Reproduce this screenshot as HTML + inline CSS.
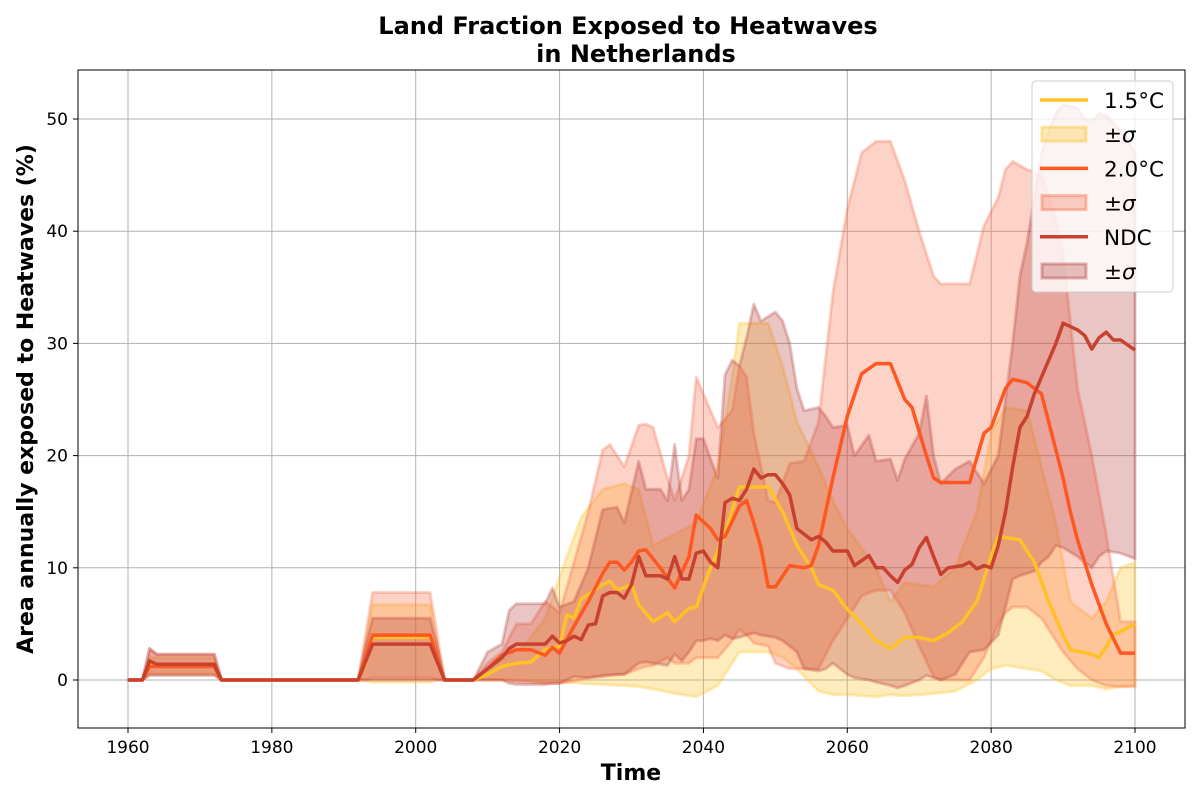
<!DOCTYPE html>
<html><head><meta charset="utf-8"><style>
body{margin:0;background:#fff;}
svg{display:block;font-family:"DejaVu Sans","Liberation Sans",sans-serif;}
</style></head><body>
<svg id="chart" width="1200" height="800" xmlns="http://www.w3.org/2000/svg">
<text x="628" y="34" text-anchor="middle" font-size="24" font-weight="bold">Land Fraction Exposed to Heatwaves</text>
<text x="636" y="62" text-anchor="middle" font-size="24" font-weight="bold">in Netherlands</text>
<text x="631" y="780" text-anchor="middle" font-size="22" font-weight="bold">Time</text>
<text transform="translate(33,399) rotate(-90)" text-anchor="middle" font-size="22" font-weight="bold">Area annually exposed to Heatwaves (%)</text>
<g id="grid"></g><g id="bands"></g><g id="lines"></g><g id="ticks"></g>
<rect x="78" y="70" width="1107" height="658" fill="none" stroke="#000" stroke-width="1"/>
<g id="legend">
<rect x="1032" y="81" width="141" height="211" rx="4" fill="#fff" fill-opacity="0.8" stroke="#ccc"/>
</g>
</svg>
<script>
const xTicks=[1960,1980,2000,2020,2040,2060,2080,2100];
const yTicks=[0,10,20,30,40,50];
const mean15Years=[1960,1962,1963,1972,1973,1992,1993,1994,2002,2003,2004,2008,2010,2012,2014,2016,2018,2020,2021,2022,2023,2026,2027,2028,2030,2031,2033,2035,2036,2038,2039,2041,2043,2045,2049,2051,2053,2055,2056,2058,2060,2062,2064,2066,2068,2070,2072,2074,2076,2078,2080,2081,2084,2086,2088,2090,2091,2094,2095,2097,2100];
const mean15=[0,0,1.3,1.3,0,0,1.5,3.8,3.8,1.8,0,0,0.5,1.2,1.5,1.6,2.7,3,5.8,5.5,7.2,8.5,8.8,8,8.5,6.7,5.2,6,5.2,6.4,6.5,10,13,17.2,17.2,15,12,10,8.5,8,6.3,5,3.5,2.8,3.8,3.8,3.5,4.2,5.2,7,11,12.8,12.5,10.5,7,4,2.7,2.3,2,4,5];
const mean20Years=[1960,1962,1963,1972,1973,1992,1993,1994,2002,2003,2004,2008,2010,2012,2014,2016,2018,2019,2020,2022,2024,2026,2027,2028,2029,2030,2031,2032,2034,2036,2038,2039,2041,2042,2043,2045,2046,2047,2048,2049,2050,2052,2054,2055,2056,2058,2060,2062,2064,2066,2068,2069,2071,2072,2073,2077,2079,2080,2082,2083,2085,2087,2088,2089,2090,2091,2092,2094,2096,2098,2100];
const mean20=[0,0,1.2,1.2,0,0,2,4,4,2,0,0,1,2.2,2.7,2.7,2.2,2.9,2.4,4.8,7,9.5,10.5,10.5,9.8,10.5,11.5,11.6,10,8.2,11,14.7,13.5,12.5,12.8,15.5,16,14,11.8,8.3,8.3,10.2,10,10.2,12,18,23.5,27.3,28.2,28.2,25,24.3,20,18,17.6,17.6,22,22.5,26,26.8,26.5,25.5,23,20.5,18,15,12.5,8.5,5,2.4,2.4];
const meanNdcYears=[1960,1962,1963,1964,1972,1973,1992,1993,1994,2002,2003,2004,2008,2010,2012,2013,2014,2018,2019,2020,2021,2022,2023,2024,2025,2026,2027,2028,2029,2030,2031,2032,2034,2035,2036,2037,2038,2039,2040,2041,2042,2043,2044,2045,2046,2047,2048,2049,2050,2051,2052,2053,2055,2056,2057,2058,2060,2061,2063,2064,2065,2066,2067,2068,2069,2070,2071,2072,2073,2074,2076,2077,2078,2079,2080,2081,2082,2083,2084,2085,2086,2087,2088,2089,2090,2092,2093,2094,2095,2096,2097,2098,2100];
const meanNdc=[0,0,1.7,1.4,1.4,0,0,1.6,3.2,3.2,1.6,0,0,1,2,2.8,3.2,3.2,3.9,3.3,3.5,3.9,3.6,4.9,5,7.5,7.8,7.8,7.3,8.5,11,9.3,9.3,9,11,9,9,11.3,11.5,10.5,10,15.8,16.2,16,17,18.8,18,18.3,18.3,17.5,16.5,13.5,12.5,12.8,12.3,11.5,11.5,10.2,11.1,10,10,9.3,8.7,9.8,10.3,11.8,12.7,11,9.4,10,10.2,10.5,9.9,10.2,10,12,15,19,22.5,23.5,25.5,27,28.5,30,31.8,31.2,30.7,29.5,30.5,31,30.3,30.3,29.4];
const band15Years=[1960,1962,1963,1972,1973,1992,1993,1994,2002,2003,2004,2008,2010,2015,2018,2021,2023,2026,2029,2031,2033,2036,2039,2042,2044,2045,2049,2051,2053,2056,2058,2060,2064,2066,2068,2072,2075,2078,2080,2082,2085,2087,2089,2091,2094,2096,2098,2100];
const band15Lo=[0,0,0.6,0.6,0,0,-0.1,-0.2,-0.2,0,0,0,0,0,-0.2,-0.2,-0.3,-0.4,-0.5,-0.6,-0.8,-1.2,-1.5,-0.5,1.5,2.5,2.5,2,1,-1,-1.3,-1.3,-1.5,-1.3,-1.4,-1.2,-1,0,1,1.3,1,0.8,0,-0.5,-0.5,-0.8,-0.6,-0.5];
const band15Hi=[0,0,2,2,0,0,3,6.7,6.7,3,0,0,1,3,5.5,11,14.5,17,17.5,17,12,13,14,19,27,31.8,31.8,28,23,19,16,13.5,10,7,8.7,8.3,10,15,22,24.3,24,19,14,7,5.5,7,10,10.5];
const band20Years=[1960,1962,1963,1964,1972,1973,1992,1993,1994,2002,2003,2004,2008,2010,2012,2014,2016,2018,2020,2022,2024,2026,2027,2029,2031,2032,2033,2035,2036,2038,2039,2041,2042,2044,2045,2046,2047,2049,2050,2052,2054,2056,2058,2060,2062,2064,2066,2068,2070,2072,2073,2077,2079,2081,2082,2083,2085,2087,2089,2090,2092,2094,2096,2098,2100];
const band20Lo=[0,0,0.5,0.5,0.5,0,0,0,0.2,0.2,0,0,0,0,0,-0.1,-0.2,-0.3,-0.3,-0.1,0.2,0.3,0.4,0.5,1,1.2,1.3,2,1.5,1.5,2,2,2,3.5,4.5,4,3.3,3,1.5,1,1,1,3.5,5.5,7.5,8,8,6,3,0.3,0,0,2,5,6,6.5,6.5,5.5,3.5,2.5,1,0,-0.5,-0.6,-0.6];
const band20Hi=[0,0,2.8,2.3,2.3,0,0,4,7.8,7.8,4,0,0,1.5,2.5,5,5,7,6,10.5,15,20.5,21,19,22.7,22.8,22.5,18,16,20,27,24,22.5,24,28,27,22,16,15.8,19.3,19.5,23,34.5,42,47,48,48,44.5,40,36,35.3,35.3,40.5,43,45.5,46.2,45.5,45,41,38,26,20,13,5.2,5.2];
const bandNdcYears=[1960,1962,1963,1964,1972,1973,1992,1993,1994,2002,2003,2004,2008,2010,2012,2013,2014,2018,2019,2020,2022,2024,2026,2028,2029,2031,2032,2034,2035,2036,2037,2038,2039,2040,2041,2042,2043,2044,2045,2046,2047,2048,2050,2051,2052,2053,2054,2056,2057,2058,2060,2061,2063,2064,2066,2067,2068,2070,2071,2072,2073,2075,2077,2079,2081,2083,2084,2085,2086,2087,2088,2089,2090,2092,2093,2094,2095,2096,2098,2100];
const bandNdcLo=[0,0,0.4,0.4,0.4,0,0,0,0,0,0,0,0,0,0,-0.3,-0.4,-0.4,-0.3,-0.3,0.3,0.2,0.4,0.5,0.5,1.5,1.6,1.4,1.3,2.3,1.7,2.5,3.5,3.5,3.7,3.5,4,3.7,3.8,4,4.2,4,3.8,3.5,3,2.5,1,0.8,1,1.5,0.5,0.2,0,-0.2,-0.5,-0.7,-0.5,0,0.4,0.2,0,0.5,2.5,2.7,4,9,9.3,9.5,9.7,10.5,11,12,11.8,11,10.5,10,11,11.5,11.3,10.8];
const bandNdcHi=[0,0,2.8,2.3,2.3,0,0,3,5.5,5.5,3,0,0,2.5,3.2,6.2,6.8,6.8,8.2,6.5,7,10,15.2,15.4,14,19.5,17,17,16,21,16,17,21.5,21.5,19.7,18,27.2,28.5,28,30.5,33.5,32,32.8,32,30,26,24,24.3,23.5,22.5,22.7,20,21.8,19.5,19.7,17.8,19.7,22,25.3,20,17.5,18.8,19.5,17.5,20,30,36,39,43,47,49,50.5,51.3,51,50,49.8,50.5,50.3,49,47];

const NS='http://www.w3.org/2000/svg';
function xs(y){return 128+(y-1960)*(1007/140);}
function ys(v){return 680-v*(561/50);}
function mk(tag,attrs,parent){const e=document.createElementNS(NS,tag);for(const k in attrs)e.setAttribute(k,attrs[k]);parent.appendChild(e);return e;}
const grid=document.getElementById('grid'),ticks=document.getElementById('ticks');
xTicks.forEach(t=>{
  const l=mk('line',{x1:xs(t),x2:xs(t),y1:70,y2:728,stroke:'#b0b0b0','stroke-width':1},grid);
  
  
  mk('line',{x1:xs(t),x2:xs(t),y1:728,y2:733,stroke:'#000'},ticks);
  const tx=mk('text',{x:xs(t),y:753,'text-anchor':'middle','font-size':17},ticks);
  tx.textContent=t;
  
  
});
yTicks.forEach(t=>{
  const l=mk('line',{x1:78,x2:1185,y1:ys(t),y2:ys(t),stroke:'#b0b0b0','stroke-width':1},grid);
  
  
  mk('line',{x1:73,x2:78,y1:ys(t),y2:ys(t),stroke:'#000'},ticks);
  const tx=mk('text',{x:68,y:ys(t)+6,'text-anchor':'end','font-size':17},ticks);
  tx.textContent=t;
  
  
});
const bands=document.getElementById('bands'),lines=document.getElementById('lines');
function band(yrs,lo,hi,color,name){
  const n=Math.min(yrs.length,lo.length,hi.length);let d='';
  for(let i=0;i<n;i++)d+=(i?'L':'M')+xs(yrs[i]).toFixed(1)+','+ys(hi[i]).toFixed(1);
  for(let i=n-1;i>=0;i--)d+='L'+xs(yrs[i]).toFixed(1)+','+ys(lo[i]).toFixed(1);
  const p=mk('path',{d:d+'Z',fill:color,'fill-opacity':0.3,stroke:color,'stroke-opacity':0.3,'stroke-width':3,'stroke-linejoin':'round'},bands);
  
  
}
function line(yrs,vals,color,name){
  const n=Math.min(yrs.length,vals.length);let d='';
  for(let i=0;i<n;i++)d+=(i?'L':'M')+xs(yrs[i]).toFixed(1)+','+ys(vals[i]).toFixed(1);
  const p=mk('path',{d:d,fill:'none',stroke:color,'stroke-width':3.5,'stroke-linejoin':'round'},lines);
  
  
}
const c15='#ffc125',c20='#ff5722';
band(band15Years,band15Lo,band15Hi,c15,'band-1-5c');
band(band20Years,band20Lo,band20Hi,'#fa6a45','band-2-0c');
band(bandNdcYears,bandNdcLo,bandNdcHi,'#b5403c','band-ndc');
line(mean15Years,mean15,c15,'line-1-5c');
line(mean20Years,mean20,c20,'line-2-0c');
line(meanNdcYears,meanNdc,'#c8412f','line-ndc');
const lg=document.getElementById('legend');
const entries=[['line',c15,'1.5°C'],['patch',c15,'±σ'],['line',c20,'2.0°C'],['patch','#fa6a45','±σ'],['line','#c8412f','NDC'],['patch','#b5403c','±σ']];
entries.forEach((e,i)=>{
  const y=100+i*34.2;
  let m;
  if(e[0]==='line')m=mk('line',{x1:1040,x2:1088,y1:y,y2:y,stroke:e[1],'stroke-width':3.5},lg);
  else m=mk('rect',{x:1042,y:y-7,width:44,height:14,fill:e[1],'fill-opacity':0.3,stroke:e[1],'stroke-opacity':0.4,'stroke-width':3},lg);
  
  
  const t=mk('text',{x:1104,y:y+8,'font-size':21.5},lg);
  if(e[0]==='patch'){t.innerHTML='±<tspan font-style="italic">σ</tspan>';}
  else t.textContent=e[2];
  
  
});
</script>
</body></html>
